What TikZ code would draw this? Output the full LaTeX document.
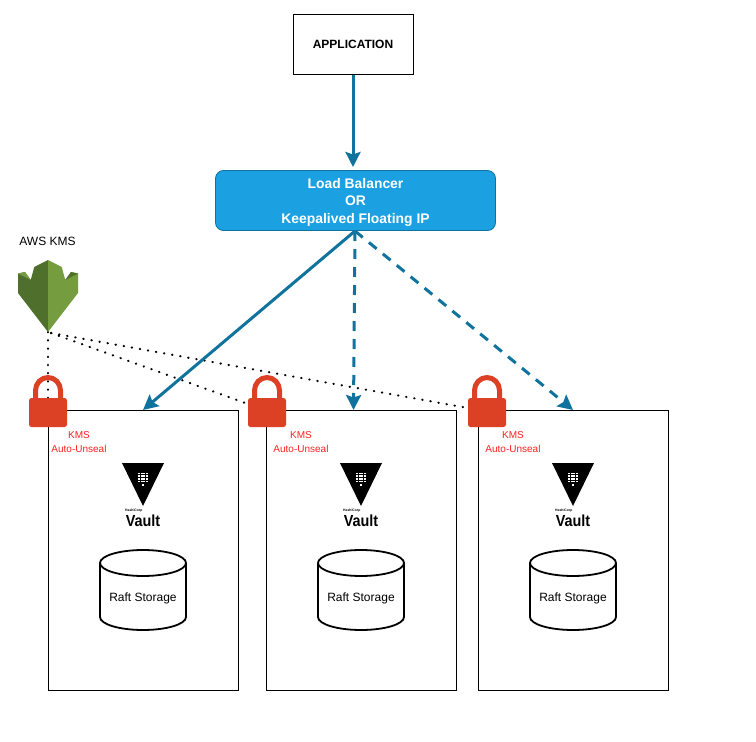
\documentclass[tikz,border=0pt]{standalone}
\usepackage{fontspec}
\setmainfont{Liberation Sans}
\usetikzlibrary{arrows.meta,shapes.geometric}
\definecolor{flow}{HTML}{10739E}
\definecolor{lbfill}{HTML}{1BA1E2}
\definecolor{lockred}{HTML}{DD4125}
\definecolor{unseal}{HTML}{FF2020}
\definecolor{shieldd}{HTML}{4F6F2C}
\definecolor{shieldl}{HTML}{759C3E}
\tikzset{
  x=1pt,y=-1pt,
  server/.style={draw=black,line width=1pt,fill=white,minimum width=190pt,minimum height=280pt,inner sep=0pt},
  flowline/.style={draw=flow,line width=3pt,-{Stealth[length=15pt,width=15pt,inset=2.5pt]}},
  flowdash/.style={flowline,dash pattern=on 10pt off 8pt},
  kmsdots/.style={draw=black,line width=2.2pt,line cap=round,dash pattern=on 0.4pt off 7.8pt},
  txt/.style={font=\fontsize{12}{14}\selectfont,text=black,inner sep=0pt},
  unsealtxt/.style={font=\fontsize{10}{14}\selectfont,text=unseal,inner sep=0pt,align=center},
  store/.style={line width=1.8pt,draw=black,fill=white},
}
\newcommand{\lockat}[2]{%
  \begin{scope}[shift={(#1,#2)}]
    \draw[lockred,line width=5pt] (-12.5,24) -- (-12.5,15.5) arc[start angle=180,end angle=360,x radius=12.5,y radius=13] -- (12.5,24);
    \fill[lockred,rounded corners=2.5pt] (-19,23) rectangle (19,52);
  \end{scope}}
\newcommand{\vaultat}[2]{%
  \begin{scope}[shift={(#1,#2)}]
    \fill[black] (-21,0) -- (21,0) -- (0,43) -- cycle;
    \foreach \i in {-1.5,-0.5,0.5,1.5}\foreach \j in {0,1,2,3}{
      \fill[white] (\i*2.7-.9,\j*2.7+9.5) rectangle ++(1.8,1.8);}
    \fill[white] (-.9,21) rectangle ++(1.8,1.8);
    \node[font=\bfseries\fontsize{3.4}{4}\selectfont,inner sep=0pt,anchor=west] at (-18,48) {HashiCorp};
    \node[font=\bfseries\fontsize{16}{18}\selectfont,inner sep=0pt,xscale=.9] at (0,58) {Vault};
  \end{scope}}
\newcommand{\storeat}[2]{%
  \draw[store] (#1-43,#2+13) -- (#1-43,#2+67) arc[start angle=180,end angle=0,x radius=43,y radius=13] -- (#1+43,#2+13);
  \draw[store] (#1,#2+13) ellipse[x radius=43,y radius=13];
  \node[txt] at (#1,#2+48) {Raft Storage};}
\begin{document}
\begin{tikzpicture}
\useasboundingbox (0,0) rectangle (756,742);
\fill[white] (0,0) rectangle (756,742);
\node[draw=black,line width=1pt,minimum width=120pt,minimum height=60pt,inner sep=0pt,font=\bfseries\fontsize{12}{14}\selectfont] (app) at (353,44.5) {APPLICATION};
\node[draw=flow,fill=lbfill,line width=.8pt,rounded corners=8pt,minimum width=280pt,minimum height=60pt,inner sep=0pt] (lb) at (355.5,200.5) {};
\node[inner sep=0pt,align=center,text=white,font=\bfseries\fontsize{13.9}{17.5}\selectfont] (lbtext) at (355.5,202) {Load Balancer\\OR\\Keepalived Floating IP};
\node[server] (s1) at (143,550.5) {};
\node[server] (s2) at (361,550.5) {};
\node[server] (s3) at (573,550.5) {};
\node[txt] (awslabel) at (47.5,241) {AWS KMS};
\coordinate (kms) at (48,332);
\coordinate (kmsr) at (51,333);
\coordinate (l1) at (48,398);
\coordinate (l2) at (248,404);
\coordinate (l3) at (468,408);
\draw[kmsdots] (kms) -- (l1);
\draw[kmsdots] (kmsr) -- (l2);
\draw[kmsdots] (kmsr) -- (l3);
\fill[shieldd] (48,260) -- (34.3,267) -- (30.7,280) -- (25,272) -- (18,273.5) -- (18,293) -- (48,332) -- cycle;
\fill[shieldl] (48,260) -- (61.7,267) -- (65.3,280) -- (71,272) -- (78,273.5) -- (78,293) -- (48,332) -- cycle;
\fill[shieldl] (18,273.5) -- (25,272) -- (30.7,280) -- cycle;
\fill[shieldd] (78,273.5) -- (71,272) -- (65.3,280) -- cycle;
\lockat{48}{375}
\lockat{267}{375}
\lockat{487}{375}
\node[unsealtxt] (u1) at (79,442) {KMS\\Auto-Unseal};
\node[unsealtxt] (u2) at (301,442) {KMS\\Auto-Unseal};
\node[unsealtxt] (u3) at (513,442) {KMS\\Auto-Unseal};
\vaultat{143}{463}
\vaultat{361}{463}
\vaultat{573}{463}
\storeat{143}{550}
\storeat{361}{550}
\storeat{573}{550}
\draw[flowline] (app.south) -- (353,167);
\coordinate (lbb) at (355,231);
\draw[flowline] (lbb) -- (s1.north);
\draw[flowdash] (lbb) -- (353.5,410);
\draw[flowdash] (lbb) -- (s3.north);
\end{tikzpicture}
\end{document}
